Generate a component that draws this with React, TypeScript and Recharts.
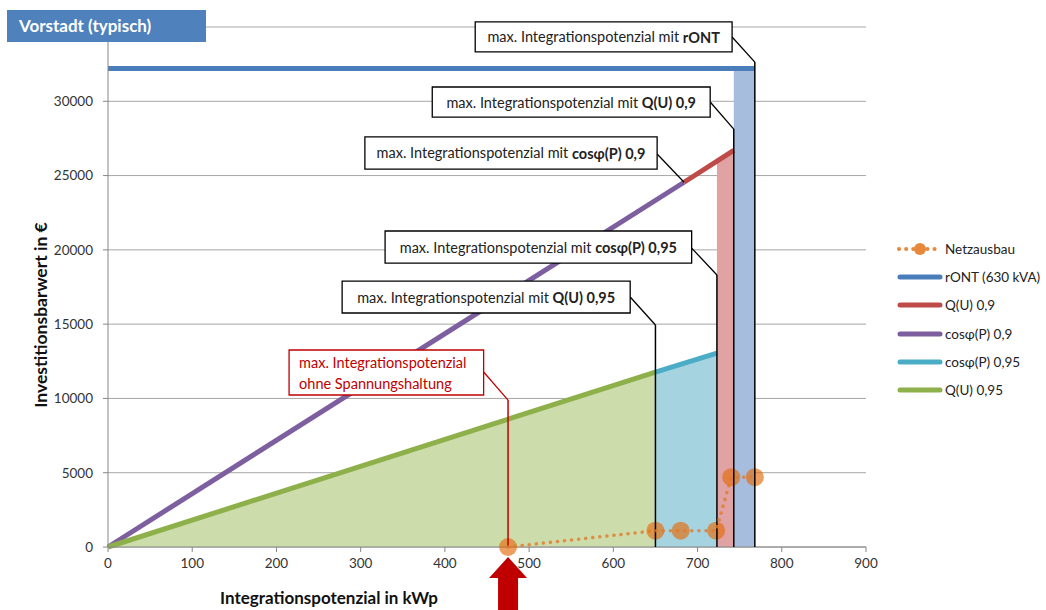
import {
  ComposedChart,
  Line,
  Area,
  XAxis,
  YAxis,
  CartesianGrid,
  ReferenceLine,
  ReferenceArea,
  ReferenceDot,
} from 'recharts';

const xTicks = [0, 100, 200, 300, 400, 500, 600, 700, 800, 900];
const yTicks = [0, 5000, 10000, 15000, 20000, 25000, 30000, 35000];

// lines (x in kWp, y in €)
const rontLine = [{ x: 0, y: 32200 }, { x: 768, y: 32200 }];
const qu09Line = [{ x: 684, y: 24550 }, { x: 743, y: 26700 }];
const cos09Line = [{ x: 0, y: 0 }, { x: 684, y: 24550 }];
const cos095Line = [{ x: 650, y: 11770 }, { x: 723, y: 13050 }];
const qu095Line = [{ x: 0, y: 0 }, { x: 650, y: 11770 }];
const netzausbau = [
  { x: 475, y: 0 },
  { x: 650, y: 1100 },
  { x: 680, y: 1100 },
  { x: 722, y: 1100 },
  { x: 740, y: 4700 },
  { x: 768, y: 4700 },
];

// shaded bands
const rontBand = [{ x: 743, y: 32200 }, { x: 768, y: 32200 }];
const qu09Band = [{ x: 723, y: 25970 }, { x: 743, y: 26700 }];

// callouts: box corners and connector in data units
const callouts = [
  { pre: 'max. Integrationspotenzial  mit ', bold: 'rONT', x1: 436, x2: 741, y1: 33320, y2: 35340, from: { x: 741, y: 34330 }, knee: { x: 768, y: 32640 }, drop: true },
  { pre: 'max. Integrationspotenzial  mit ', bold: 'Q(U) 0,9', x1: 385, x2: 715, y1: 28940, y2: 30960, from: { x: 715, y: 29950 }, knee: { x: 743, y: 28130 }, drop: true },
  { pre: 'max. Integrationspotenzial mit ', bold: 'cosφ(P) 0,9', x1: 305, x2: 652, y1: 25440, y2: 27600, from: { x: 652, y: 26450 }, knee: { x: 684, y: 24550 }, drop: false },
  { pre: 'max. Integrationspotenzial mit ', bold: 'cosφ(P) 0,95', x1: 329, x2: 693, y1: 19110, y2: 21270, from: { x: 693, y: 20120 }, knee: { x: 723, y: 18310 }, drop: true },
  { pre: 'max. Integrationspotenzial mit ', bold: 'Q(U) 0,95', x1: 278, x2: 620, y1: 15750, y2: 17900, from: { x: 620, y: 16830 }, knee: { x: 650, y: 14940 }, drop: true },
];

const legendItems = [
  { name: 'Netzausbau', color: '#E8883A', dotted: true },
  { name: 'rONT (630 kVA)', color: '#4A7EBB' },
  { name: 'Q(U) 0,9', color: '#BE4B48' },
  { name: 'cosφ(P) 0,9', color: '#7D5FA0' },
  { name: 'cosφ(P) 0,95', color: '#4BACC6' },
  { name: 'Q(U) 0,95', color: '#8EB04A' },
];

const FONT = 'Lato, "Open Sans", sans-serif';

function CalloutText(props: any) {
  const { viewBox, pre, bold } = props;
  const { x, y, width, height } = viewBox;
  return (
    <text x={x + width / 2} y={y + height / 2} textAnchor="middle" dominantBaseline="central"
      fontSize={14.5} fill="#222" fontFamily={FONT}>
      {pre}
      <tspan fontWeight="bold">{bold}</tspan>
    </text>
  );
}

function RedText(props: any) {
  const { x, y } = props.viewBox;
  return (
    <text x={x + 10} y={y + 18} fontSize={14.5} fill="#C00000" fontFamily={FONT}>
      <tspan x={x + 10}>max. Integrationspotenzial</tspan>
      <tspan x={x + 10} dy={21}>ohne Spannungshaltung</tspan>
    </text>
  );
}

const Arrow = ({ cx, cy }: any) => (
  <polygon
    points={`${cx},${cy + 10} ${cx + 19},${cy + 31} ${cx + 10},${cy + 31} ${cx + 10},${cy + 70} ${cx - 10},${cy + 70} ${cx - 10},${cy + 31} ${cx - 19},${cy + 31}`}
    fill="#C00000"
  />
);

const NetzDot = ({ cx, cy }: any) => (
  <circle cx={cx} cy={cy} r={9} fill="#E46C0A" fillOpacity={0.65} />
);

export default function App() {
  return (
    <div style={{ position: 'absolute', left: 0, top: 0, width: 1046, height: 610, fontFamily: FONT, background: '#fff' }}>
      <ComposedChart width={1046} height={610} margin={{ top: 27, right: 180, bottom: 33, left: 48 }}>
        <CartesianGrid vertical={false} stroke="#A6A6A6" />
        <XAxis dataKey="x" type="number" domain={[0, 900]} ticks={xTicks} height={30} allowDuplicatedCategory={false}
          tick={{ fontSize: 13.5, fill: '#333', fontFamily: FONT }} tickSize={5} tickMargin={6}
          axisLine={{ stroke: '#868686' }} tickLine={{ stroke: '#868686' }} />
        <YAxis dataKey="y" type="number" domain={[0, 35000]} ticks={yTicks} width={60} interval={0}
          tickFormatter={(v: number) => (v === 35000 ? '' : String(v))}
          tick={{ fontSize: 13.5, fill: '#333', fontFamily: FONT }} tickSize={5} tickMargin={10}
          axisLine={{ stroke: '#868686' }} tickLine={{ stroke: '#868686' }} />

        <Area data={qu095Line} dataKey="y" type="linear" stroke="none" fill="#CDDCAB" fillOpacity={1} isAnimationActive={false} />
        <Area data={cos095Line} dataKey="y" type="linear" stroke="none" fill="#A5D4E0" fillOpacity={1} isAnimationActive={false} />
        <Area data={qu09Band} dataKey="y" type="linear" stroke="none" fill="#E0A2A2" fillOpacity={1} isAnimationActive={false} />
        <Area data={rontBand} dataKey="y" type="linear" stroke="none" fill="#A7BDDD" fillOpacity={1} isAnimationActive={false} />

        <Line data={rontLine} dataKey="y" type="linear" stroke="#4A7EBB" strokeWidth={5} dot={false} isAnimationActive={false} />
        <Line data={cos09Line} dataKey="y" type="linear" stroke="#7D5FA0" strokeWidth={5} dot={false} isAnimationActive={false} />
        <Line data={qu09Line} dataKey="y" type="linear" stroke="#BE4B48" strokeWidth={5} dot={false} isAnimationActive={false} />
        <Line data={qu095Line} dataKey="y" type="linear" stroke="#8EB04A" strokeWidth={5} dot={false} isAnimationActive={false} />
        <Line data={cos095Line} dataKey="y" type="linear" stroke="#4BACC6" strokeWidth={5} dot={false} isAnimationActive={false} />

        {callouts.map((c, i) => (
          <ReferenceLine key={'c' + i} segment={[c.from, c.knee]} stroke="#000" strokeWidth={1.3} ifOverflow="visible" zIndex={1400} />
        ))}
        {callouts.filter((c) => c.drop).map((c, i) => (
          <ReferenceLine key={'d' + i} segment={[c.knee, { x: c.knee.x, y: 0 }]} stroke="#000" strokeWidth={1.5} ifOverflow="visible" zIndex={1400} />
        ))}
        <ReferenceLine segment={[{ x: 446, y: 11780 }, { x: 475, y: 9890 }]} stroke="#C00000" strokeWidth={1.3} ifOverflow="visible" zIndex={1400} />
        <ReferenceLine segment={[{ x: 475, y: 9890 }, { x: 475, y: 0 }]} stroke="#C00000" strokeWidth={1.5} ifOverflow="visible" zIndex={1400} />

        <Line data={netzausbau} dataKey="y" type="linear" stroke="#E07A2A" strokeOpacity={0.8} strokeWidth={3.5}
          strokeDasharray="0.1 7" strokeLinecap="round" dot={<NetzDot />} activeDot={false} isAnimationActive={false} zIndex={1450} />

        {callouts.map((c, i) => (
          <ReferenceArea key={'b' + i} x1={c.x1} x2={c.x2} y1={c.y1} y2={c.y2} fill="#fff" fillOpacity={1}
            stroke="#000" strokeWidth={1.3} ifOverflow="visible" zIndex={1500}
            label={<CalloutText pre={c.pre} bold={c.bold} />} />
        ))}
        <ReferenceArea x1={215} x2={446} y1={10230} y2={13260} fill="#fff" fillOpacity={1}
          stroke="#C00000" strokeWidth={1.3} ifOverflow="visible" zIndex={1500} label={<RedText />} />

        <ReferenceDot x={475} y={0} r={0} ifOverflow="visible" shape={<Arrow />} zIndex={1500} />
      </ComposedChart>

      <div style={{ position: 'absolute', left: 7, top: 10, width: 199, height: 32, background: '#4F81BD',
        color: '#fff', fontWeight: 'bold', fontSize: 17, lineHeight: '32px', paddingLeft: 12, boxSizing: 'border-box' }}>
        Vorstadt (typisch)
      </div>

      <div style={{ position: 'absolute', left: 40, top: 315, transform: 'translate(-50%, -50%) rotate(-90deg)',
        whiteSpace: 'nowrap', fontWeight: 'bold', fontSize: 17.5, color: '#111' }}>
        Investitionsbarwert in €
      </div>
      <div style={{ position: 'absolute', left: 0, width: 658, top: 588, textAlign: 'center',
        fontWeight: 'bold', fontSize: 17, color: '#111', lineHeight: '20px' }}>
        Integrationspotenzial in kWp
      </div>

      <div style={{ position: 'absolute', left: 896, top: 235, width: 150 }}>
        {legendItems.map((it) => (
          <div key={it.name} style={{ display: 'flex', alignItems: 'center', height: 28.2, fontSize: 13.5,
            color: '#222', whiteSpace: 'nowrap' }}>
            <svg width={48} height={14} style={{ marginRight: 1, flexShrink: 0 }}>
              {it.dotted ? (
                <g>
                  <line x1={3} y1={7} x2={45} y2={7} stroke={it.color} strokeWidth={4} strokeDasharray="0.1 7" strokeLinecap="round" />
                  <circle cx={24} cy={7} r={6} fill={it.color} />
                </g>
              ) : (
                <line x1={4} y1={7} x2={44} y2={7} stroke={it.color} strokeWidth={5} strokeLinecap="round" />
              )}
            </svg>
            <span>{it.name}</span>
          </div>
        ))}
      </div>
    </div>
  );
}
